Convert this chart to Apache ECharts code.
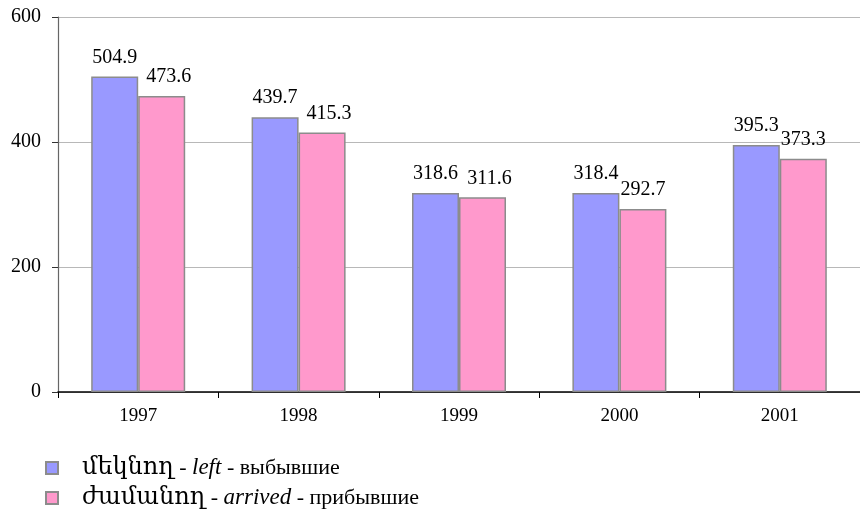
<!DOCTYPE html>
<html>
<head>
<meta charset="utf-8">
<script src="https://cdn.jsdelivr.net/npm/echarts@6/dist/echarts.min.js"></script>
<style>
  html, body { margin: 0; padding: 0; background: #fff; }
  #chart { width: 860px; height: 514px; }
</style>
</head>
<body>
<div id="chart"></div>
<script>
var years = ['1997', '1998', '1999', '2000', '2001']
var left = [504.9, 439.7, 318.6, 318.4, 395.3]
var arrived = [473.6, 415.3, 311.6, 292.7, 373.3]
var yTicks = [0, 200, 400, 600]

var serif = '"Liberation Serif", "DejaVu Serif", serif'

var chart = echarts.init(document.getElementById('chart'))

function labelOpt() {
  return {
    show: true,
    position: 'top',
    distance: 9,
    color: '#000',
    fontFamily: serif,
    fontSize: 20,
    formatter: function (p) { return p.value.toFixed(1) }
  }
}

// pink labels that sit a little to the right in the original
var shifted = [0, 1, 2]
var arrivedData = arrived.map(function (v, i) {
  if (shifted.indexOf(i) < 0) return v
  return { value: v, label: { offset: [7, 0] } }
})

function legendOpt(name, top) {
  return {
    orient: 'vertical',
    left: 45,
    top: top,
    padding: 0,
    itemWidth: 12,
    itemHeight: 12,
    icon: 'rect',
    textStyle: {
      fontFamily: serif,
      fontSize: 22,
      lineHeight: 22,
      color: '#000',
      padding: [0, 0, 0, 19],
      rich: {
        am: { fontFamily: serif, fontSize: 24, lineHeight: 22, color: '#000' },
        it: { fontFamily: serif, fontSize: 23, lineHeight: 22, fontStyle: 'italic', color: '#000' }
      }
    },
    formatter: function (n) {
      if (n === 'left') return '{am|մեկնող} - {it|left} - выбывшие'
      return '{am|ժամանող} - {it|arrived} - прибывшие'
    },
    data: [name]
  }
}

chart.setOption({
  animation: false,
  textStyle: { fontFamily: serif },
  grid: { left: 58, right: -3, top: 17, bottom: 122, containLabel: false },
  legend: [legendOpt('left', 456), legendOpt('arrived', 486)],
  xAxis: {
    type: 'category',
    data: years,
    axisLine: { lineStyle: { color: '#000', width: 1.5 } },
    axisTick: { show: true, length: 6, lineStyle: { color: '#000' } },
    axisLabel: { color: '#000', fontFamily: serif, fontSize: 19, margin: 15 }
  },
  yAxis: {
    type: 'value',
    min: 0,
    max: yTicks[yTicks.length - 1],
    interval: 200,
    axisLine: { show: true, lineStyle: { color: '#666', width: 1.2 } },
    axisTick: { show: true, length: 6, lineStyle: { color: '#333' } },
    splitLine: { lineStyle: { color: '#b8b8b8', width: 1 } },
    axisLabel: { color: '#000', fontFamily: serif, fontSize: 20, margin: 17 }
  },
  series: [{
    name: 'left',
    type: 'bar',
    data: left,
    barWidth: 47,
    barGap: '0%',
    itemStyle: { color: '#9999ff', borderColor: '#8c8c8c', borderWidth: 1.5 },
    label: labelOpt()
  }, {
    name: 'arrived',
    type: 'bar',
    data: arrivedData,
    barWidth: 47,
    itemStyle: { color: '#ff99cc', borderColor: '#8c8c8c', borderWidth: 1.5 },
    label: labelOpt()
  }]
})
</script>
</body>
</html>
